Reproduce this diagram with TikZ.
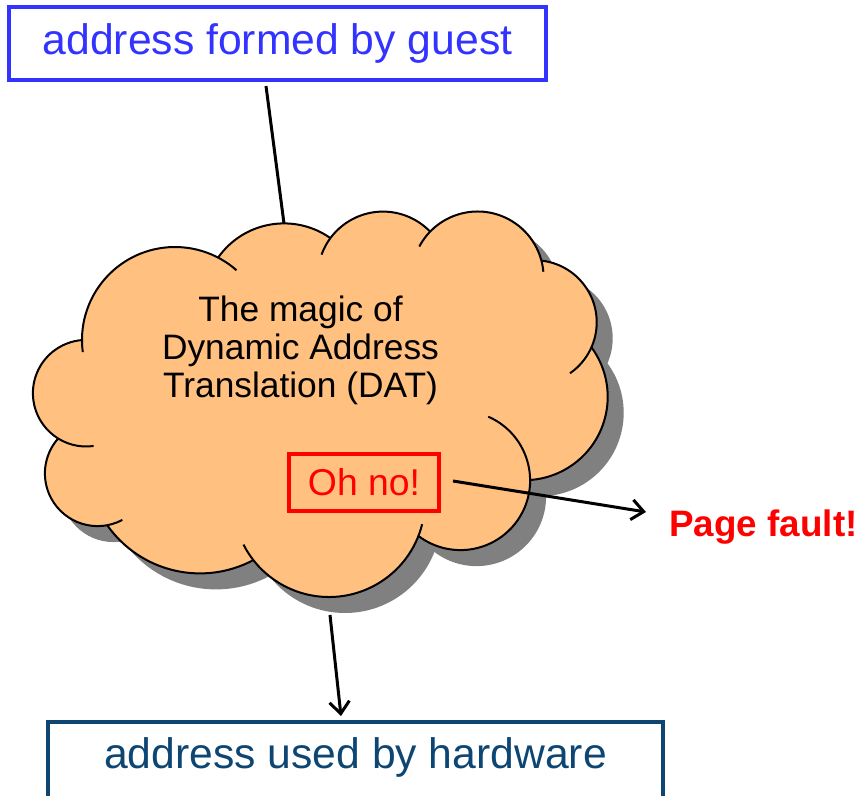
\documentclass[tikz,border=0pt]{standalone}
\usepackage{fontspec}
\setmainfont{Liberation Sans}
\usetikzlibrary{arrows.meta,calc}
\definecolor{guestblue}{RGB}{51,51,255}
\definecolor{hwblue}{RGB}{14,70,115}
\definecolor{cloudfill}{RGB}{255,192,128}
\definecolor{cloudshadow}{RGB}{128,128,128}
\definecolor{faultred}{RGB}{255,0,0}
\begin{document}
\begin{tikzpicture}[x=0.75pt,y=0.75pt,yscale=-1,
  bigbox/.style={draw, line width=3pt, inner sep=0pt, font=\fontsize{32}{38}\selectfont},
  cloudline/.style={draw=black, line width=1.5pt},
  conn/.style={draw=black, line width=2.25pt},
  arr/.style={draw=black, line width=2.25pt, -{Straight Barb[length=9pt,width=15pt]}},
  ohbox/.style={draw=faultred, line width=3pt, text=faultred, inner sep=0pt,
    minimum width=112.5pt, minimum height=42.75pt, font=\fontsize{28}{32}\selectfont}
]
\useasboundingbox (0,0) rectangle (861,796);

% cloud shadow
\begin{scope}[shift={(16,16)}]
  \foreach \cx/\cy/\r in {175/340/93, 284/304/80.6, 383/277/65.4, 477.6/277.5/66,
      534.7/322.3/62, 524.3/396.8/83.4, 460.5/480.5/69.6, 329/501/96,
      200/460/113.4, 97.6/473.4/52.7, 86.2/393.2/53.3}
    \fill[cloudshadow] (\cx,\cy) circle[radius=\r];
  \fill[cloudshadow] (175,340) -- (284,304) -- (383,277) -- (477.6,277.5) -- (534.7,322.3)
    -- (524.3,396.8) -- (460.5,480.5) -- (329,501) -- (200,460) -- (97.6,473.4)
    -- (86.2,393.2) -- cycle;
\end{scope}

% cloud body
\foreach \cx/\cy/\r in {175/340/93, 284/304/80.6, 383/277/65.4, 477.6/277.5/66,
    534.7/322.3/62, 524.3/396.8/83.4, 460.5/480.5/69.6, 329/501/96,
    200/460/113.4, 97.6/473.4/52.7, 86.2/393.2/53.3}
  \fill[cloudfill] (\cx,\cy) circle[radius=\r];
\fill[cloudfill] (175,340) -- (284,304) -- (383,277) -- (477.6,277.5) -- (534.7,322.3)
  -- (524.3,396.8) -- (460.5,480.5) -- (329,501) -- (200,460) -- (97.6,473.4)
  -- (86.2,393.2) -- cycle;

% cloud outline (lobe arcs with inner tails)
\foreach \cx/\cy/\r/\a/\b in {175/340/93/172.5/311.4, 284/304/80.6/215.2/305.15,
    383/277/65.4/200/315.9, 477.6/277.5/66/208/355, 534.7/322.3/62/276.2/415.3,
    524.3/396.8/83.4/323.6/446, 460.5/480.5/69.6/-66.5/127.2, 329/501/96/14/153,
    200/460/113.4/62/144.9, 97.6/473.4/52.7/62/221.5, 86.2/393.2/53.3/82/265.5}
  \draw[cloudline] (\cx,\cy) ++(\a:\r) arc[start angle=\a, end angle=\b, radius=\r];

% nodes
\node[bigbox, draw=guestblue, text=guestblue, minimum width=402.75pt, minimum height=54.75pt]
  (guest) at (277.5,43.5) {address formed by guest};
\node[bigbox, draw=hwblue, text=hwblue, minimum width=461.25pt,
  text height=34.5pt, text depth=37.5pt] (hw) at (355.5,770) {address used by hardware};
\node[align=center, font=\fontsize{26.5}{28.5}\selectfont, inner sep=0pt] (dat) at (300.5,350)
  {The magic of\\Dynamic Address\\Translation (DAT)};
\node[ohbox] (ohno) at (364,482.5) {Oh no!};
\node[text=faultred, font=\bfseries\fontsize{27.6}{32}\selectfont, inner sep=0pt] (pf) at (763.5,527) {Page fault!};

% connector end points
\coordinate (gs) at (266,86);
\coordinate (ctop) at (284,223.5);
\coordinate (cbot) at (330,615);
\coordinate (hwtip) at (341,716);
\coordinate (ohstart) at (453,481);
\coordinate (pftip) at (646,512);

\draw[conn] (gs) -- (ctop);
\draw[arr] (cbot) -- (hwtip);
\draw[arr] (ohstart) -- (pftip);
\end{tikzpicture}
\end{document}
